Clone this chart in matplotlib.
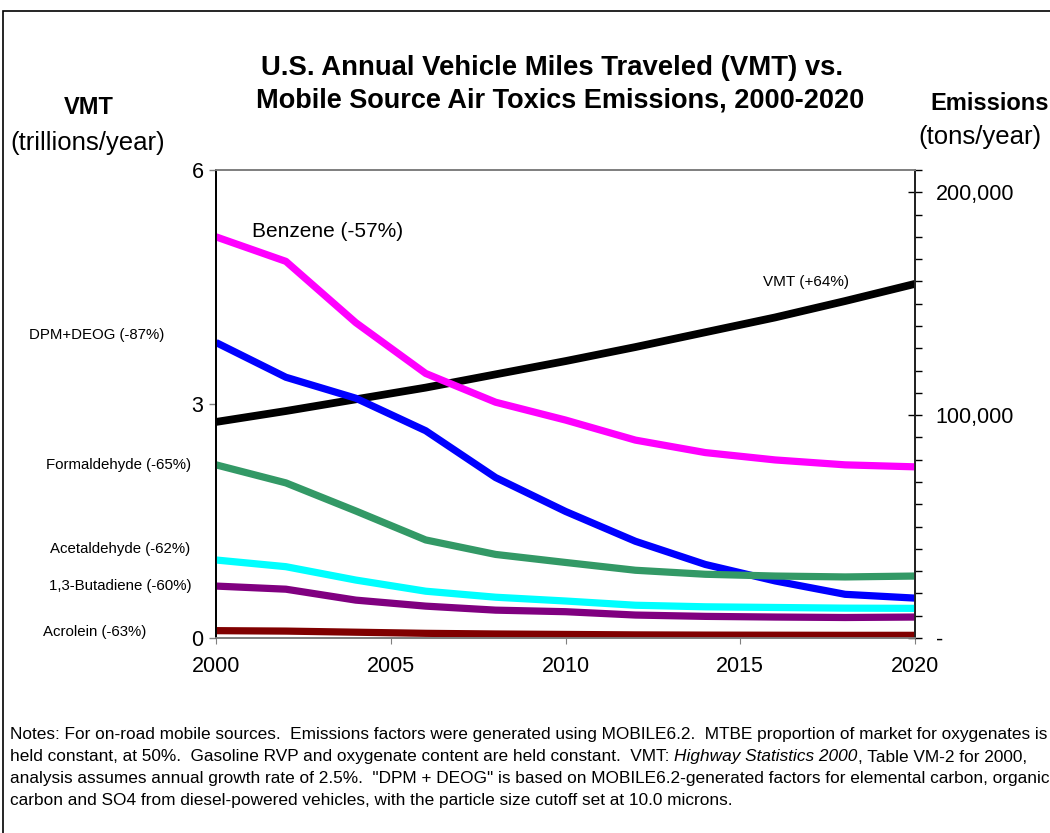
import matplotlib
matplotlib.use("Agg")
import matplotlib.pyplot as plt
from matplotlib.patches import Rectangle
from matplotlib.ticker import FixedLocator, MultipleLocator

plt.rcParams['font.family'] = ['Liberation Sans', 'DejaVu Sans']

# ---- data ----
years = [2000, 2002, 2004, 2006, 2008, 2010, 2012, 2014, 2016, 2018, 2020]
vmt = [2.77, 2.91, 3.06, 3.21, 3.38, 3.55, 3.73, 3.92, 4.11, 4.32, 4.54]
benzene = [180000, 169000, 141500, 118700, 105800, 97800, 88800, 83200, 79900, 77700, 76800]
dpm_deog = [132600, 117000, 107600, 93000, 72000, 56800, 43400, 33000, 25600, 19600, 17900]
formaldehyde = [77700, 69600, 57000, 44000, 37500, 33900, 30400, 28600, 27800, 27400, 27800]
acetaldehyde = [35000, 32000, 26000, 21000, 18300, 16600, 14700, 14000, 13700, 13400, 13300]
butadiene = [23300, 21900, 17000, 14300, 12500, 11800, 10300, 9700, 9400, 9200, 9400]
acrolein = [3300, 3100, 2600, 2100, 1800, 1600, 1400, 1300, 1250, 1200, 1200]

x_ticks = [2000, 2005, 2010, 2015, 2020]
left_ticks = [0, 3, 6]
right_ticks = [0, 100000, 200000]
right_ticklabels = ['-', '100,000', '200,000']

W, H = 1050, 833
fig = plt.figure(figsize=(W / 100, H / 100), dpi=100)

def fx(x):
    return x / W

def fy(y):
    return 1 - y / H

L, R, T, B = 216, 915, 170, 638
ax = fig.add_axes([fx(L), fy(B), (R - L) / W, (B - T) / H])
ax2 = ax.twinx()

lw = 5.2
ax.plot(years, vmt, color='black', lw=5.6, solid_joinstyle='round', solid_capstyle='butt')
series = [
    (benzene, '#FF00FF'),
    (dpm_deog, '#0000FF'),
    (formaldehyde, '#339966'),
    (acetaldehyde, '#00FFFF'),
    (butadiene, '#800080'),
    (acrolein, '#800000'),
]
for vals, col in series:
    ax2.plot(years, vals, color=col, lw=lw, solid_joinstyle='round', solid_capstyle='butt')

ax.set_xlim(2000, 2020)
ax.set_ylim(0, 6)
ax2.set_ylim(0, 210000)

for a in (ax, ax2):
    a.spines['top'].set_color('#808080')
    a.spines['bottom'].set_color('#808080')
    a.spines['left'].set_color('black')
    a.spines['right'].set_color('#222222')
    for s in a.spines.values():
        s.set_linewidth(1.3)

ax.set_xticks(x_ticks)
ax.set_xticklabels([str(v) for v in x_ticks])
ax.tick_params(axis='x', direction='out', length=4, color='#808080', labelsize=15.5, pad=9)
ax.set_yticks(left_ticks)
ax.set_yticklabels([str(v) for v in left_ticks])
ax.tick_params(axis='y', direction='out', length=5, width=1, color='#808080', labelsize=15.5, pad=4)

ax2.yaxis.set_major_locator(FixedLocator(right_ticks))
ax2.set_yticklabels(right_ticklabels)
ax2.yaxis.set_minor_locator(MultipleLocator(10000))
ax2.tick_params(axis='y', which='major', direction='inout', length=10, width=1, color='black',
                labelsize=15.5, pad=10)
ax2.tick_params(axis='y', which='minor', direction='out', length=5, width=1, color='black')

# ---- titles and labels ----
fig.text(fx(552), fy(68), 'U.S. Annual Vehicle Miles Traveled (VMT) vs.',
         ha='center', va='center', fontsize=19.8, fontweight='bold')
fig.text(fx(560), fy(100), 'Mobile Source Air Toxics Emissions, 2000-2020',
         ha='center', va='center', fontsize=19.5, fontweight='bold')
fig.text(fx(89), fy(108), 'VMT', ha='center', va='center', fontsize=17, fontweight='bold')
fig.text(fx(88), fy(143), '(trillions/year)', ha='center', va='center', fontsize=18.5)
fig.text(fx(930), fy(104), 'Emissions', ha='left', va='center', fontsize=17, fontweight='bold')
fig.text(fx(918), fy(137), '(tons/year)', ha='left', va='center', fontsize=18.5)

fig.text(fx(252), fy(232), 'Benzene (-57%)', ha='left', va='center', fontsize=15)
fig.text(fx(763), fy(282), 'VMT (+64%)', ha='left', va='center', fontsize=11)
side = [
    ('DPM+DEOG (-87%)', 97, 335),
    ('Formaldehyde (-65%)', 119, 465),
    ('Acetaldehyde (-62%)', 120, 549),
    ('1,3-Butadiene (-60%)', 120, 586),
    ('Acrolein (-63%)', 95, 632),
]
for txt, x, y in side:
    fig.text(fx(x), fy(y), txt, ha='center', va='center', fontsize=10.8)

# ---- notes ----
fs = 12.4
renderer = fig.canvas.get_renderer()
def run(pieces, x0, y):
    x = x0
    for txt, style in pieces:
        t = fig.text(fx(x), fy(y), txt, ha='left', va='center', fontsize=fs, style=style)
        bb = t.get_window_extent(renderer=renderer)
        x += bb.width

run([('Notes: For on-road mobile sources.  Emissions factors were generated using MOBILE6.2.  '
      'MTBE proportion of market for oxygenates is', 'normal')], 10, 735)
run([('held constant, at 50%.  Gasoline RVP and oxygenate content are held constant.  VMT: ', 'normal'),
     ('Highway Statistics 2000', 'italic'),
     (', Table VM-2 for 2000,', 'normal')], 10, 757)
run([('analysis assumes annual growth rate of 2.5%.  "DPM + DEOG" is based on MOBILE6.2-generated '
      'factors for elemental carbon, organic', 'normal')], 10, 779)
run([('carbon and SO4 from diesel-powered vehicles, with the particle size cutoff set at 10.0 microns.',
      'normal')], 10, 800)

# outer frame
fig.patches.append(Rectangle((fx(3), -0.05), 1.2, fy(11) + 0.05, transform=fig.transFigure,
                             fill=False, edgecolor='black', lw=1.2))

fig.savefig('out.png', dpi=100)
